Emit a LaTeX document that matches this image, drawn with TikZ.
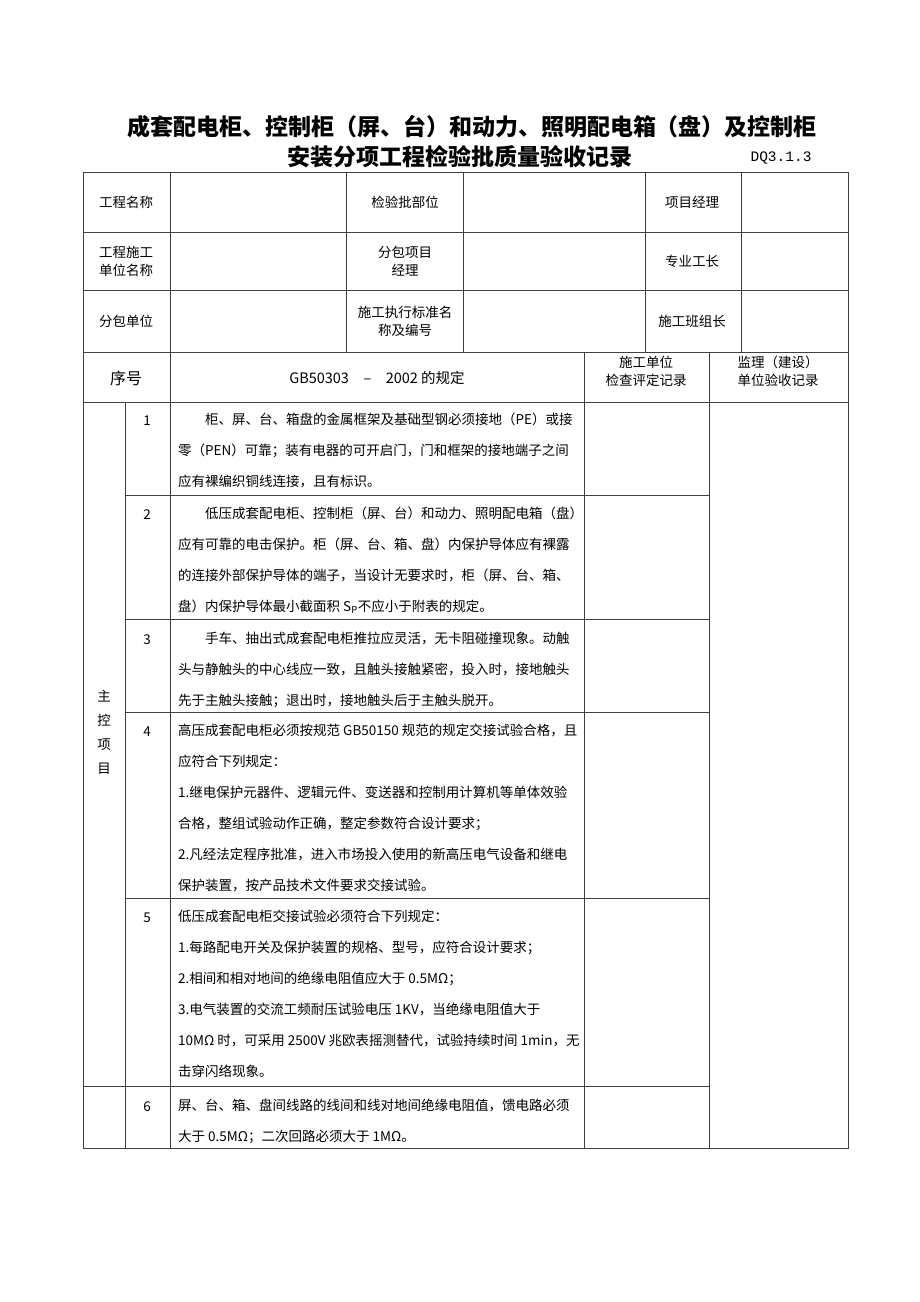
\documentclass[tikz,border=0pt]{standalone}
\usepackage{fontspec}
\setmainfont{Noto Sans CJK SC}
\newfontfamily\codefont{Liberation Mono}

\tikzset{
  tabline/.style={black!75, line width=0.7pt},
  cell/.style={font=\fontsize{13.5}{18}\selectfont, align=center, inner sep=0pt},
  body/.style={font=\fontsize{13.5}{31}\selectfont, align=left, anchor=north west, inner sep=0pt},
  titletext/.style={font=\fontsize{23}{28}\selectfont\bfseries, inner sep=0pt}
}

\begin{document}
\begin{tikzpicture}[x=1pt,y=-1pt]

\fill[white] (0,0) rectangle (920,1302);
\useasboundingbox (0,0) rectangle (920,1302);

% title
\node[titletext] (title1) at (472,127) {成套配电柜、控制柜（屏、台）和动力、照明配电箱（盘）及控制柜};
\node[titletext] (title2) at (460,157) {安装分项工程检验批质量验收记录};
\node[cell, font=\fontsize{14.5}{18}\codefont] (code) at (781,158) {DQ3.1.3};

% frame
\draw[tabline] (83,172) rectangle (848,1148);

% top rows
\draw[tabline] (83,232) -- (848,232);
\draw[tabline] (83,290) -- (848,290);
\draw[tabline] (83,352) -- (848,352);
\draw[tabline] (170,172) -- (170,1148);
\draw[tabline] (346,172) -- (346,352);
\draw[tabline] (463,172) -- (463,352);
\draw[tabline] (645,172) -- (645,352);
\draw[tabline] (741,172) -- (741,352);

\node[cell] (gcmc) at (126,202) {工程名称};
\node[cell] (jybw) at (405,202) {检验批部位};
\node[cell] (xmjl) at (692,202) {项目经理};

\node[cell] (sgdw) at (126,261) {工程施工\\单位名称};
\node[cell] (fbjl) at (405,261) {分包项目\\经理};
\node[cell] (zygz) at (692,261) {专业工长};

\node[cell] (fbdw) at (126,321) {分包单位};
\node[cell] (bzmc) at (405,321) {施工执行标准名\\称及编号};
\node[cell] (bzz) at (692,321) {施工班组长};

% header
\draw[tabline] (83,402) -- (848,402);
\draw[tabline] (584,352) -- (584,1148);
\draw[tabline] (709,352) -- (709,1148);

\node[cell, font=\fontsize{16}{18}\selectfont] (xh) at (126,378) {序号};
\node[cell, font=\fontsize{14.5}{18}\selectfont] (gf) at (377,378) {GB50303\quad –\quad 2002 的规定};
\node[cell] (sgjc) at (646,371) {施工单位\\检查评定记录};
\node[cell] (jlys) at (778,371) {监理（建设）\\单位验收记录};

% body rows
\draw[tabline] (125,402) -- (125,1148);
\draw[tabline] (125,495) -- (709,495);
\draw[tabline] (125,619) -- (709,619);
\draw[tabline] (125,712) -- (709,712);
\draw[tabline] (125,898) -- (709,898);
\draw[tabline] (83,1086) -- (709,1086);

\node[cell, font=\fontsize{13.5}{24}\selectfont] (zkxm) at (104,732) {主\\控\\项\\目};

% item 1
\node[cell] (n1) at (147,421) {1};
\node[body] (t1) at (178,413) {\hspace*{2em}柜、屏、台、箱盘的金属框架及基础型钢必须接地（PE）或接\\零（PEN）可靠；装有电器的可开启门，门和框架的接地端子之间\\应有裸编织铜线连接，且有标识。};

% item 2
\node[cell] (n2) at (147,515) {2};
\node[body] (t2) at (178,507) {\hspace*{2em}低压成套配电柜、控制柜（屏、台）和动力、照明配电箱（盘）\\应有可靠的电击保护。柜（屏、台、箱、盘）内保护导体应有裸露\\的连接外部保护导体的端子，当设计无要求时，柜（屏、台、箱、\\盘）内保护导体最小截面积 S\textsubscript{P}不应小于附表的规定。};

% item 3
\node[cell] (n3) at (147,640) {3};
\node[body] (t3) at (178,632) {\hspace*{2em}手车、抽出式成套配电柜推拉应灵活，无卡阻碰撞现象。动触\\头与静触头的中心线应一致，且触头接触紧密，投入时，接地触头\\先于主触头接触；退出时，接地触头后于主触头脱开。};

% item 4
\node[cell] (n4) at (147,732) {4};
\node[body] (t4) at (178,724) {高压成套配电柜必须按规范 GB50150 规范的规定交接试验合格，且\\应符合下列规定：\\1.继电保护元器件、逻辑元件、变送器和控制用计算机等单体效验\\合格，整组试验动作正确，整定参数符合设计要求；\\2.凡经法定程序批准，进入市场投入使用的新高压电气设备和继电\\保护装置，按产品技术文件要求交接试验。};

% item 5
\node[cell] (n5) at (147,918) {5};
\node[body] (t5) at (178,910) {低压成套配电柜交接试验必须符合下列规定：\\1.每路配电开关及保护装置的规格、型号，应符合设计要求；\\2.相间和相对地间的绝缘电阻值应大于 0.5MΩ；\\3.电气装置的交流工频耐压试验电压 1KV，当绝缘电阻值大于\\10MΩ 时，可采用 2500V 兆欧表摇测替代，试验持续时间 1min，无\\击穿闪络现象。};

% item 6
\node[cell] (n6) at (147,1107) {6};
\node[body] (t6) at (178,1099) {屏、台、箱、盘间线路的线间和线对地间绝缘电阻值，馈电路必须\\大于 0.5MΩ；二次回路必须大于 1MΩ。};

\end{tikzpicture}
\end{document}
